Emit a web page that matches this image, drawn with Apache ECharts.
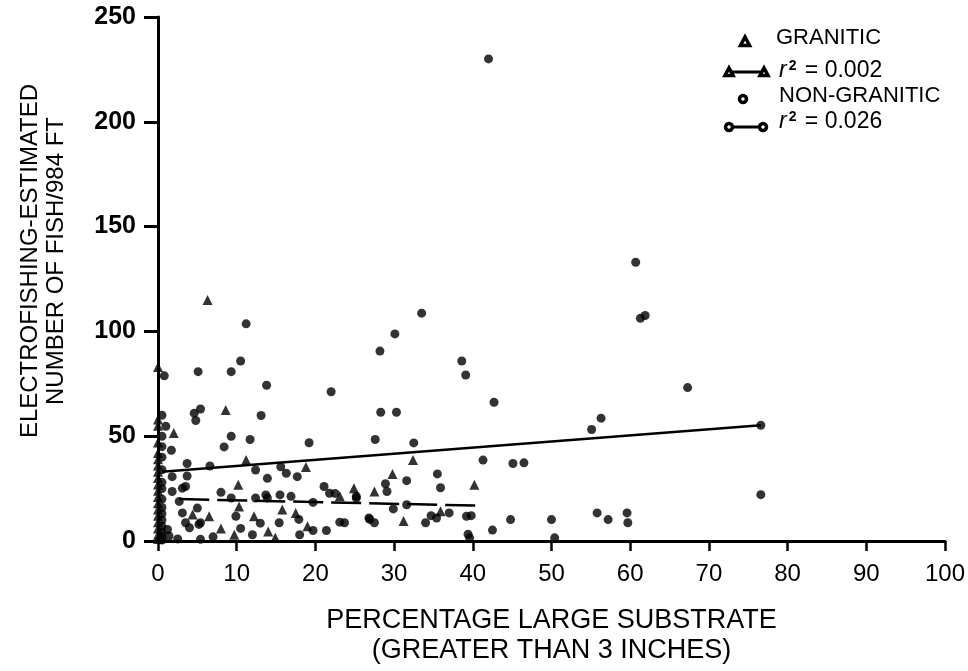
<!DOCTYPE html>
<html><head><meta charset="utf-8">
<script src="https://cdn.jsdelivr.net/npm/echarts@6/dist/echarts.min.js"></script>
<style>html,body{margin:0;padding:0;background:#fff}#c{width:968px;height:671px}</style>
</head><body><div id="c"></div>
<script>
const xTicks = [0,10,20,30,40,50,60,70,80,90,100];
const yTicks = [0,50,100,150,200,250];
const xTitle = 'PERCENTAGE LARGE SUBSTRATE\n(GREATER THAN 3 INCHES)';
const yTitle1 = 'ELECTROFISHING-ESTIMATED';
const yTitle2 = 'NUMBER OF FISH/984 FT';
const legendNames = ['GRANITIC', '0.002', 'NON-GRANITIC', '0.026'];

// granitic streams (triangles)
const graniticX = [6.3,0,8.6,2,11.2,18.8,10.2,32.4,29.8,40.2,24.9,27.5,31.2,35.9,9.7,14.9,14,
  0,0,0,0,0,0,0,0,0,0,0,0,0,0,0,0,0,0,
  4.4,10.3,12.2,15.8,17.5,6.5,23.1,8,19];
const graniticY = [115,83,62.5,51.5,38.6,35.3,26.8,38.6,32,26.8,25.2,23.6,9.5,14.2,3,1.5,4.5,
  58,55,47,42,39,36,33,30,27,24,21,18,15,12,9,6,3,1,
  12.6,16.5,11.8,15,13.4,11.8,21.3,6,7];

// non-granitic streams (circles)
const nonGraniticX = [42,60.7,61.3,61.9,67.3,33.5,30.1,28.2,38.6,39.1,22,42.7,28.3,30.3,27.6,32.5,41.3,45.1,46.5,55.1,56.3,76.6,76.6,
  11.2,10.5,9.3,5.1,0.8,13.8,5.4,4.6,4.8,13.1,1,9.3,11.7,8.4,1.7,19.2,3.7,6.6,12.4,1.8,3.7,13.9,16.3,17.7,3.5,1.8,8,21.1,21.8,15.6,
  31.6,35.5,35.9,28.9,29.1,22.5,25.2,29.9,31.6,26.8,27.5,23.7,34,34.7,35.4,37,39.2,39.8,44.8,42.5,39.4,50,55.8,57.2,59.6,59.7,50.4,39.6,
  15.5,16.9,13.9,19.7,25.2,17.9,23.1,26.9,15.4,13.7,2.7,9.3,12.4,3.1,9.9,5.2,3.1,5,3.5,5.4,4,1.2,1.4,5.4,19.7,21.4,12,7,10.5,13,18,2.5,
  0.5,0.5,0.5,0.5,0.5,0.5,0.5,0.5,0.5,0.5,0.5,0.5,0.5,0.5,0.5];
const nonGraniticY = [230,133,106.3,107.6,73.2,108.7,98.8,90.6,85.9,79.2,71.2,66.2,61.4,61.4,48.4,46.8,38.6,37,37.3,53.2,58.6,55.2,22.1,
  103.6,85.9,80.8,80.8,78.8,74.3,63,61,57.5,59.9,54.7,50,48.4,44.9,43.3,46.9,37,35.8,33.9,30.7,31,29.9,32.3,30.7,26,23.6,23.2,26,22.8,35.4,
  28.8,32,25.4,27.3,23.6,22.7,20.5,15.3,17.3,11,8.7,8.7,8.7,12.1,11,13.4,11.8,12.1,10.2,5.2,3.2,10.2,13.4,10.2,13.4,8.7,1.5,1.5,
  22,21.3,20.5,18.4,21.3,10.3,9,10.3,8.7,22,18.9,20.5,20.5,13.4,11.8,7.9,25.2,15.7,8.7,8.7,6.3,5.5,2.4,0.8,5,5,3,2,6,8.5,3,1,
  60,50,45,40,34,28,25,20,16,13,10,7,4,2,0.5];

// regression lines
const graniticFitX = [2.7, 40.5];
const graniticFitY = [20, 16.9];
const nonGraniticFitX = [0.5, 76.6];
const nonGraniticFitY = [33, 55.2];

const zip = (a, b) => a.map((v, i) => [v, b[i]]);
const FONT = '"Liberation Sans", Arial, sans-serif';

const chart = echarts.init(document.getElementById('c'), null, {renderer: 'canvas'});

const richR = {
  i: {font: 'italic 23px ' + FONT, fill: '#000'},
  s: {font: 'bold 14px ' + FONT, fill: '#000', verticalAlign: 'top', padding: [0, 2, 10, 2]},
  n: {font: '23px ' + FONT, fill: '#000'}
};
const mk = {fill: '#fff', stroke: '#000', lineWidth: 3.5};
const legend = [
  {type:'polygon', shape:{points:[[740.5,45.5],[749.5,45.5],[745,37]]}, style:mk},
  {type:'text', x:776, y:38, style:{text:legendNames[0], font:'22px '+FONT, fill:'#000', verticalAlign:'middle'}},
  {type:'line', shape:{x1:729, y1:72, x2:764, y2:72}, style:{stroke:'#000', lineWidth:3}},
  {type:'polygon', shape:{points:[[725,75.5],[733,75.5],[729,68]]}, style:mk},
  {type:'polygon', shape:{points:[[760,75.5],[768,75.5],[764,68]]}, style:mk},
  {type:'text', x:779, y:71, style:{text:'{i|r}{s|2}{n| = ' + legendNames[1] + '}', verticalAlign:'middle', rich:richR}},
  {type:'circle', shape:{cx:743, cy:99, r:3.5}, style:mk},
  {type:'text', x:779, y:96, style:{text:legendNames[2], font:'22px '+FONT, fill:'#000', verticalAlign:'middle'}},
  {type:'line', shape:{x1:729, y1:127, x2:763, y2:127}, style:{stroke:'#000', lineWidth:3}},
  {type:'circle', shape:{cx:729, cy:127, r:3.5}, style:mk},
  {type:'circle', shape:{cx:763, cy:127, r:3.5}, style:mk},
  {type:'text', x:779, y:122, style:{text:'{i|r}{s|2}{n| = ' + legendNames[3] + '}', verticalAlign:'middle', rich:richR}},
  {type:'text', x:30, y:261, rotation:Math.PI/2, style:{text:yTitle1, font:'24px '+FONT, fill:'#000', align:'center', verticalAlign:'middle'}},
  {type:'text', x:56, y:261, rotation:Math.PI/2, style:{text:yTitle2, font:'24px '+FONT, fill:'#000', align:'center', verticalAlign:'middle'}}
];

chart.setOption({
  animation: false,
  backgroundColor: '#fff',
  grid: {left: 158, right: 22, top: 17, bottom: 126, containLabel: false},
  xAxis: {
    type: 'value', min: xTicks[0], max: xTicks[xTicks.length-1], interval: 10,
    name: xTitle, nameLocation: 'middle', nameGap: 65,
    nameTextStyle: {fontFamily: FONT, fontSize: 27, color: '#000', lineHeight: 30, verticalAlign: 'top'},
    axisLine: {lineStyle: {color: '#000', width: 3}},
    axisTick: {inside: false, length: 10, lineStyle: {color: '#000', width: 2.5}},
    axisLabel: {fontFamily: FONT, fontSize: 24, color: '#000', margin: 21},
    splitLine: {show: false}
  },
  yAxis: {
    type: 'value', min: yTicks[0], max: yTicks[yTicks.length-1], interval: 50,
    axisLine: {lineStyle: {color: '#000', width: 3}},
    axisTick: {inside: false, length: 14, lineStyle: {color: '#000', width: 3}},
    axisLabel: {fontFamily: FONT, fontSize: 25, fontWeight: 'bold', color: '#000', margin: 22},
    splitLine: {show: false}
  },
  graphic: legend,
  series: [
    {name: 'GRANITIC', type: 'scatter', symbol: 'triangle', symbolSize: 10, itemStyle: {color: '#000'},
     data: zip(graniticX, graniticY), z: 3},
    {name: 'NON-GRANITIC', type: 'scatter', symbol: 'circle', symbolSize: 9, itemStyle: {color: '#000'},
     data: zip(nonGraniticX, nonGraniticY), z: 3},
    {name: 'granitic fit', type: 'line', showSymbol: false, data: zip(graniticFitX, graniticFitY),
     lineStyle: {color: '#000', width: 2.5, type: [30, 8]}, z: 2},
    {name: 'non-granitic fit', type: 'line', showSymbol: false, data: zip(nonGraniticFitX, nonGraniticFitY),
     lineStyle: {color: '#000', width: 2.5}, z: 2}
  ]
});
</script></body></html>
